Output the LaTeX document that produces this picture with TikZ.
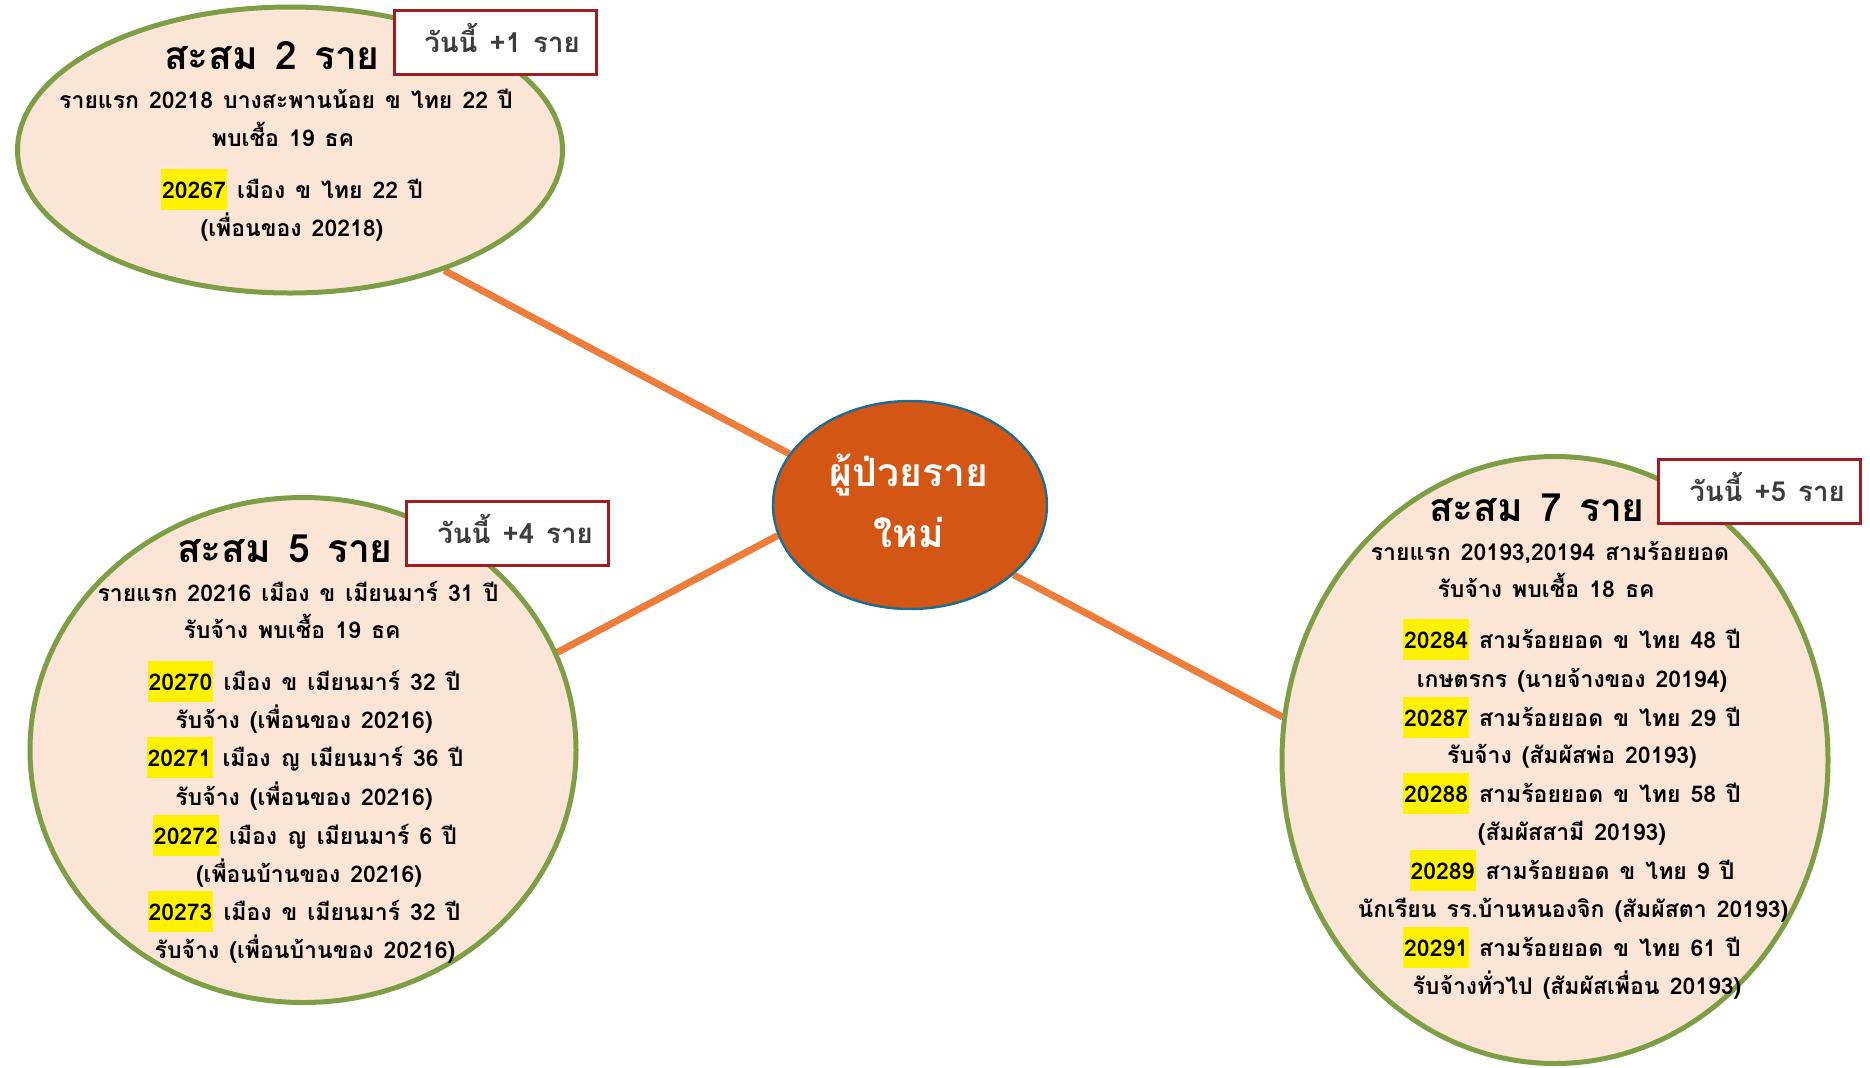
\documentclass[tikz,border=0pt]{standalone}
\usepackage{fontspec}
\setmainfont[Script=Thai, WordSpace=1.3]{Loma}
\usetikzlibrary{shapes.geometric,backgrounds}
\definecolor{bubblefill}{HTML}{FBE5D6}
\definecolor{bubbleedge}{HTML}{7E9E45}
\definecolor{linkcol}{HTML}{EE7D3B}
\definecolor{hubfill}{HTML}{D35615}
\definecolor{hubedge}{HTML}{1B6D91}
\definecolor{tagedge}{HTML}{A01C21}
\definecolor{tagtext}{HTML}{3C3C3C}
\newcommand{\hlnum}[1]{{\setlength{\fboxsep}{0pt}\colorbox{yellow}{\rule[-0.5em]{0pt}{1.75em}\hspace{0.5pt}#1\hspace{0.5pt}}}}
\begin{document}
\begin{tikzpicture}[x=0.5pt,y=-0.5pt,
  bubble/.style={ellipse, draw=bubbleedge, fill=bubblefill, line width=2.5pt, inner sep=0pt},
  hub/.style={ellipse, draw=hubedge, fill=hubfill, line width=1.2pt, inner sep=0pt, minimum width=137pt, minimum height=104pt},
  link/.style={draw=linkcol, line width=3.5pt},
  tagbox/.style={rectangle, draw=tagedge, fill=white, line width=1.5pt, inner sep=0pt, minimum width=101pt, minimum height=32pt},
  tagtxt/.style={anchor=base, text=tagtext, font=\bfseries\fontsize{13.8}{16}\selectfont},
  ttl/.style={anchor=base, font=\bfseries\fontsize{19.5}{23}\selectfont},
  txt/.style={anchor=base, font=\bfseries\fontsize{11.5}{14}\selectfont},
  hubtxt/.style={anchor=base, text=white, font=\bfseries\fontsize{19.5}{24}\selectfont}]
\useasboundingbox (0,0) rectangle (1870,1067);

% bubbles
\node[bubble, minimum width=272.5pt, minimum height=143pt] (tl) at (290,150) {};
\node[bubble, minimum width=273pt, minimum height=252.5pt] (bl) at (303,750) {};
\node[bubble, minimum width=273pt, minimum height=303.5pt] (rt) at (1555,760) {};
\node[hub] (hub) at (910,505) {};

% connectors
\begin{pgfonlayer}{background}
\draw[link] (tl.-38.9) -- (hub.157.5);
\draw[link] (bl.21.1) -- (hub.-167.2);
\draw[link] (hub.-34.2) -- (rt.171.1);
\end{pgfonlayer}

% hub text
\node[hubtxt] (hub1) at (909,486) {ผู้ป่วยราย};
\node[hubtxt] (hub2) at (909,547) {ใหม่};

% tags
\node[tagbox] (tag1) at (495,42) {};
\node[tagtxt] (tag1t) at (502,52) {วันนี้ +1 ราย};
\node[tagbox] (tag2) at (507,533) {};
\node[tagtxt] (tag2t) at (515,543) {วันนี้ +4 ราย};
\node[tagbox] (tag3) at (1759.5,491.5) {};
\node[tagtxt] (tag3t) at (1767,501) {วันนี้ +5 ราย};

% top-left texts
\node[ttl] (tl0) at (272,69) {สะสม 2 ราย};
\node[txt] (tl1) at (286,108) {รายแรก 20218 บางสะพานน้อย ข ไทย 22 ปี};
\node[txt] (tl2) at (283,146) {พบเชื้อ 19 ธค};
\node[txt] (tl3) at (292,198) {\hlnum{20267} เมือง ข ไทย 22 ปี};
\node[txt] (tl4) at (292,236) {(เพื่อนของ 20218)};

% bottom-left texts
\node[ttl] (bl0) at (285,562) {สะสม 5 ราย};
\node[txt] (bl1) at (298,601) {รายแรก 20216 เมือง ข เมียนมาร์ 31 ปี};
\node[txt] (bl2) at (292,638) {รับจ้าง พบเชื้อ 19 ธค};
\node[txt] (bl3) at (304,690) {\hlnum{20270} เมือง ข เมียนมาร์ 32 ปี};
\node[txt] (bl4) at (304,728) {รับจ้าง (เพื่อนของ 20216)};
\node[txt] (bl5) at (305,766) {\hlnum{20271} เมือง ญ เมียนมาร์ 36 ปี};
\node[txt] (bl6) at (304,805) {รับจ้าง (เพื่อนของ 20216)};
\node[txt] (bl7) at (305,844) {\hlnum{20272} เมือง ญ เมียนมาร์ 6 ปี};
\node[txt] (bl8) at (309,882) {(เพื่อนบ้านของ 20216)};
\node[txt] (bl9) at (304,920) {\hlnum{20273} เมือง ข เมียนมาร์ 32 ปี};
\node[txt] (bl10) at (305,958) {รับจ้าง (เพื่อนบ้านของ 20216)};

% right texts
\node[ttl] (rt0) at (1537,521) {สะสม 7 ราย};
\node[txt] (rt1) at (1550,560) {รายแรก 20193,20194 สามร้อยยอด};
\node[txt] (rt2) at (1546,597) {รับจ้าง พบเชื้อ 18 ธค};
\node[txt] (rt3) at (1572,648) {\hlnum{20284} สามร้อยยอด ข ไทย 48 ปี};
\node[txt] (rt4) at (1572,687) {เกษตรกร (นายจ้างของ 20194)};
\node[txt] (rt5) at (1572,726) {\hlnum{20287} สามร้อยยอด ข ไทย 29 ปี};
\node[txt] (rt6) at (1572,763) {รับจ้าง (สัมผัสพ่อ 20193)};
\node[txt] (rt7) at (1572,802) {\hlnum{20288} สามร้อยยอด ข ไทย 58 ปี};
\node[txt] (rt8) at (1572,840) {(สัมผัสสามี 20193)};
\node[txt] (rt9) at (1572,879) {\hlnum{20289} สามร้อยยอด ข ไทย 9 ปี};
\node[txt] (rt10) at (1573,917) {นักเรียน รร.บ้านหนองจิก (สัมผัสตา 20193)};
\node[txt] (rt11) at (1572,956) {\hlnum{20291} สามร้อยยอด ข ไทย 61 ปี};
\node[txt] (rt12) at (1577,994) {รับจ้างทั่วไป (สัมผัสเพื่อน 20193)};
\end{tikzpicture}
\end{document}
